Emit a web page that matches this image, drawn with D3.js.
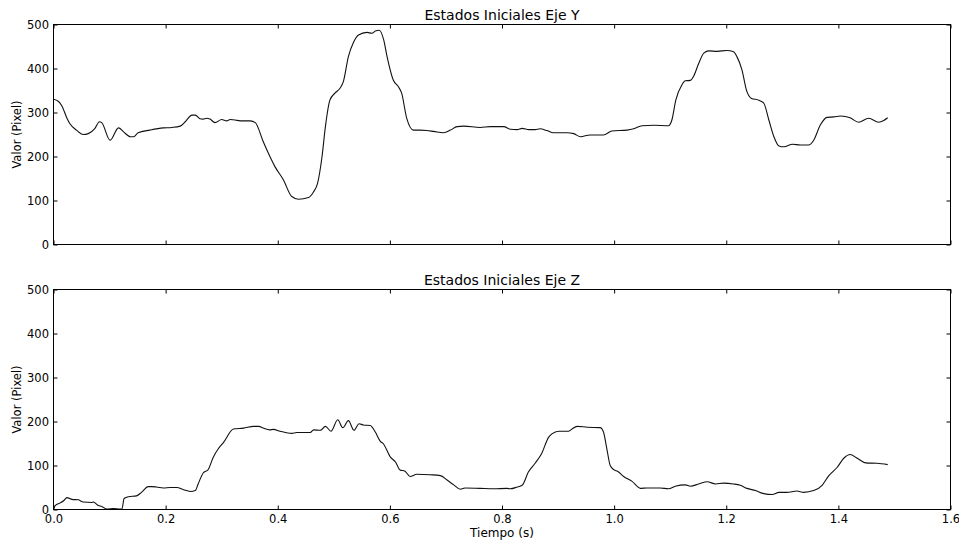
<!DOCTYPE html>
<html>
<head>
<meta charset="utf-8">
<script src="https://cdn.jsdelivr.net/npm/d3@7"></script>
<style>
  html, body { margin: 0; padding: 0; background: #fff; }
  svg { display: block; font-family: "DejaVu Sans", sans-serif; }
</style>
</head>
<body>
<svg id="chart" width="959" height="541"></svg>
<script>
// Eje Y: tiempo (s) y valor (pixel)
const tY = [0.000,0.009,0.015,0.024,0.029,0.041,0.053,0.062,0.074,0.082,0.086,0.101,0.116,0.125,0.137,0.143,0.151,0.172,0.196,0.211,0.226,0.235,0.247,0.253,0.261,0.267,0.273,0.279,0.288,0.300,0.309,0.315,0.324,0.333,0.351,0.360,0.374,0.386,0.395,0.410,0.425,0.437,0.455,0.464,0.471,0.479,0.485,0.493,0.502,0.511,0.517,0.526,0.535,0.544,0.559,0.568,0.574,0.581,0.589,0.595,0.606,0.615,0.621,0.630,0.642,0.654,0.666,0.678,0.696,0.708,0.720,0.732,0.761,0.779,0.803,0.815,0.827,0.836,0.848,0.859,0.868,0.880,0.892,0.916,0.928,0.940,0.957,0.981,0.996,1.023,1.035,1.050,1.071,1.097,1.103,1.110,1.121,1.127,1.136,1.142,1.151,1.160,1.169,1.184,1.201,1.213,1.219,1.228,1.236,1.245,1.258,1.267,1.276,1.285,1.294,1.303,1.318,1.332,1.347,1.356,1.368,1.380,1.392,1.404,1.421,1.436,1.454,1.472,1.481,1.488];
const vY = [330,325,315,287,275,260,250,252,264,279,277,237,265,256,245,245,254,260,265,266,269,279,294,294,286,285,287,285,277,284,281,284,283,281,281,277,234,200,177,147,109,103,107,120,139,200,268,328,344,355,370,427,459,476,482,480,485,487,465,427,374,359,344,287,260,260,259,257,254,260,268,269,266,268,268,262,261,264,261,261,263,259,254,254,252,245,249,249,258,260,263,270,271,270,283,328,363,372,373,383,412,435,440,439,441,438,427,397,351,332,328,321,283,245,224,222,228,226,226,237,272,289,290,292,288,278,287,278,282,288];

// Eje Z: tiempo (s) y valor (pixel)
const tZ = [0.000,0.003,0.012,0.018,0.024,0.033,0.044,0.053,0.068,0.071,0.080,0.086,0.095,0.107,0.119,0.122,0.126,0.134,0.148,0.157,0.169,0.175,0.184,0.196,0.208,0.220,0.232,0.244,0.253,0.258,0.267,0.276,0.285,0.294,0.303,0.321,0.339,0.357,0.366,0.374,0.386,0.392,0.404,0.425,0.434,0.458,0.464,0.476,0.485,0.495,0.507,0.516,0.526,0.536,0.545,0.553,0.565,0.574,0.583,0.588,0.601,0.610,0.618,0.627,0.636,0.648,0.672,0.690,0.702,0.714,0.726,0.734,0.761,0.785,0.809,0.815,0.827,0.836,0.847,0.859,0.871,0.883,0.889,0.901,0.919,0.925,0.934,0.952,0.975,0.981,0.987,0.993,1.000,1.006,1.017,1.032,1.047,1.058,1.082,1.097,1.109,1.127,1.136,1.151,1.166,1.181,1.195,1.213,1.225,1.237,1.252,1.267,1.282,1.294,1.308,1.326,1.338,1.356,1.371,1.383,1.398,1.410,1.421,1.433,1.449,1.469,1.488];
const vZ = [2,9,15,20,27,23,22,17,16,17,9,7,1,2,1,1,25,29,31,39,52,52,51,49,50,50,45,41,43,58,83,91,119,138,152,183,185,189,189,185,181,182,178,173,175,175,181,180,189,178,204,186,202,180,195,192,191,176,155,150,119,108,90,87,75,80,79,77,67,56,46,49,48,47,48,47,51,55,85,105,128,164,172,178,178,183,189,187,186,176,138,100,90,87,75,64,48,49,49,47,53,56,53,58,63,58,60,58,55,48,43,36,34,39,39,42,39,43,55,77,96,117,125,117,106,105,102];

const xTicks = [0.0, 0.2, 0.4, 0.6, 0.8, 1.0, 1.2, 1.4, 1.6];
const yTicks = [0, 100, 200, 300, 400, 500];

const titles = ["Estados Iniciales Eje Y", "Estados Iniciales Eje Z"];
const yLabel = "Valor (Pixel)";
const xLabel = "Tiempo (s)";

const svg = d3.select("#chart");
const left = 53.5, right = 950.5;
const panels = [
  { top: 24.5, bottom: 244.5, t: tY, v: vY, title: titles[0], xLabels: false },
  { top: 289.5, bottom: 509.5, t: tZ, v: vZ, title: titles[1], xLabels: true }
];

const x = d3.scaleLinear().domain([0, 1.6]).range([left, right]);
const tickLen = 4;

panels.forEach(p => {
  const y = d3.scaleLinear().domain([0, 500]).range([p.bottom, p.top]);
  const g = svg.append("g");

  // series line
  const data = p.t.map((t, i) => [t, p.v[i]]);
  g.append("path")
    .datum(data)
    .attr("fill", "none")
    .attr("stroke", "#111")
    .attr("stroke-width", 1.1)
    .attr("stroke-linejoin", "round")
    .attr("d", d3.line().x(d => x(d[0])).y(d => y(d[1])).curve(d3.curveMonotoneX));

  // inward ticks on all four sides
  const ax = (gen, tr) => {
    const a = g.append("g").attr("transform", tr).call(gen);
    a.select(".domain").remove();
    a.selectAll("line").attr("stroke", "#000");
    return a;
  };
  const fmtX = d3.format(".1f");
  ax(d3.axisBottom(x).tickValues(xTicks).tickSizeInner(-tickLen).tickSizeOuter(0)
      .tickFormat(p.xLabels ? fmtX : () => "").tickPadding(5.5), `translate(0,${p.bottom})`);
  ax(d3.axisTop(x).tickValues(xTicks).tickSizeInner(-tickLen).tickSizeOuter(0).tickFormat(() => ""),
     `translate(0,${p.top})`);
  ax(d3.axisLeft(y).tickValues(yTicks).tickSizeInner(-tickLen).tickSizeOuter(0).tickPadding(4.5),
     `translate(${left},0)`);
  ax(d3.axisRight(y).tickValues(yTicks).tickSizeInner(-tickLen).tickSizeOuter(0).tickFormat(() => ""),
     `translate(${right},0)`);

  g.selectAll("text")
    .attr("fill", "#000")
    .style("font-family", "DejaVu Sans, sans-serif")
    .style("font-size", "11.5px");

  // frame
  g.append("rect")
    .attr("x", left).attr("y", p.top)
    .attr("width", right - left).attr("height", p.bottom - p.top)
    .attr("fill", "none").attr("stroke", "#000").attr("stroke-width", 1);

  // title
  g.append("text")
    .attr("x", (left + right) / 2).attr("y", p.top - 4.5)
    .attr("text-anchor", "middle")
    .style("font-size", "14px")
    .attr("fill", "#000")
    .text(p.title);

  // y axis label
  g.append("text")
    .attr("transform", `translate(21,${(p.top + p.bottom) / 2}) rotate(-90)`)
    .attr("text-anchor", "middle")
    .style("font-size", "11.5px")
    .attr("fill", "#000")
    .text(yLabel);
});

svg.append("text")
  .attr("x", (left + right) / 2).attr("y", 537)
  .attr("text-anchor", "middle")
  .style("font-size", "12px")
  .attr("fill", "#000")
  .text(xLabel);
</script>
</body>
</html>
